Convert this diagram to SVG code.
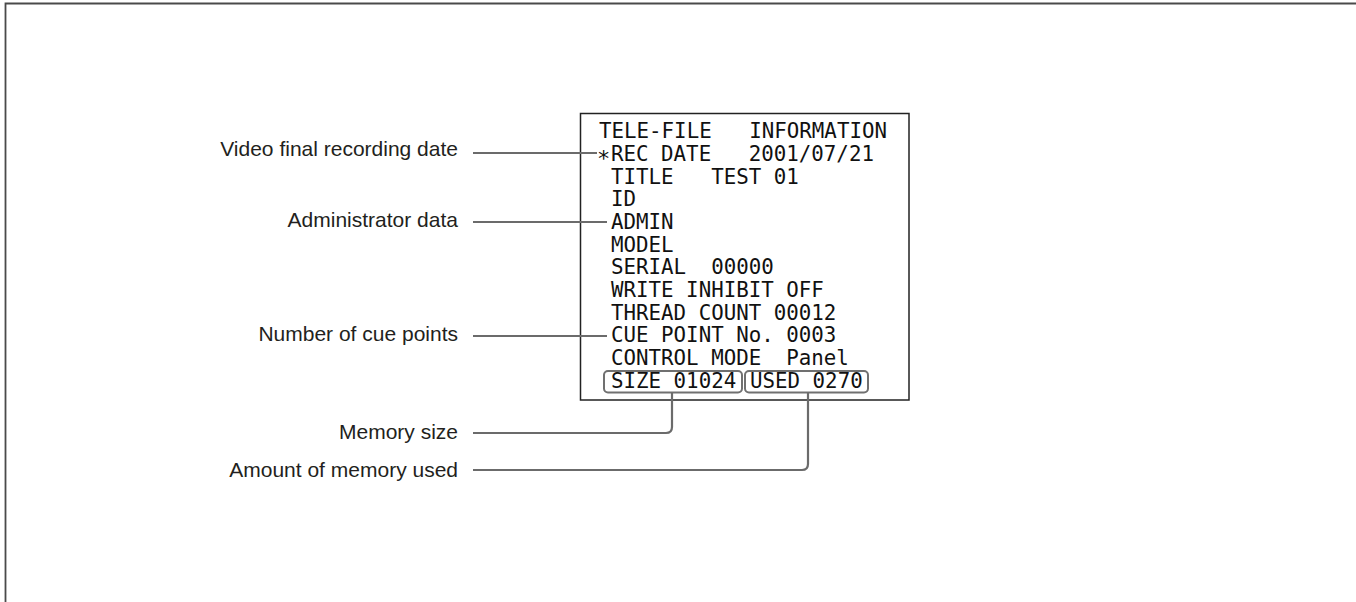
<svg xmlns="http://www.w3.org/2000/svg" width="1356" height="602" viewBox="0 0 1356 602">
<style>
.lbl{font-family:"Liberation Sans",Arial,sans-serif;font-size:21px;fill:#231f20;text-anchor:end}
.osd{font-family:"DejaVu Sans Mono","Liberation Mono",monospace;font-size:20.8px;fill:#111;white-space:pre}
.con{fill:none;stroke:#6b6b6b;stroke-width:2.2}
.cell{fill:none;stroke:#707070;stroke-width:2}
</style>
<rect width="1356" height="602" fill="#fff"/>
<g id="frame">
<path d="M5.5 602 V3.5 H1356" fill="none" stroke="#4a4a4a" stroke-width="1.8"/>
</g>
<g id="screen">
<rect x="580.5" y="113.5" width="328.5" height="286.5" fill="#fff" stroke="#222" stroke-width="1.5"/>
<text class="osd" xml:space="preserve" x="599" y="138">TELE-FILE   INFORMATION</text>
<text class="osd" xml:space="preserve" x="597" y="161"><tspan dy="5" font-size="22">*</tspan><tspan x="611" dy="-5">REC DATE   2001/07/21</tspan></text>
<text class="osd" xml:space="preserve" x="611" y="183.5">TITLE   TEST 01</text>
<text class="osd" x="611" y="206">ID</text>
<text class="osd" x="611" y="229">ADMIN</text>
<text class="osd" x="611" y="251.5">MODEL</text>
<text class="osd" xml:space="preserve" x="611" y="274">SERIAL  00000</text>
<text class="osd" x="611" y="297">WRITE INHIBIT OFF</text>
<text class="osd" x="611" y="319.5">THREAD COUNT 00012</text>
<text class="osd" x="611" y="342">CUE POINT No. 0003</text>
<text class="osd" xml:space="preserve" x="611" y="364.5">CONTROL MODE  Panel</text>
<rect class="cell" x="604" y="371" width="138" height="21.5" rx="4"/>
<rect class="cell" x="745" y="371" width="123" height="21.5" rx="4"/>
<text class="osd" x="611" y="388">SIZE 01024</text>
<text class="osd" x="750" y="388">USED 0270</text>
</g>
<g id="labels">
<text class="lbl" x="458" y="156">Video final recording date</text>
<text class="lbl" x="458" y="227">Administrator data</text>
<text class="lbl" x="458" y="341">Number of cue points</text>
<text class="lbl" x="458" y="439">Memory size</text>
<text class="lbl" x="458" y="477">Amount of memory used</text>
</g>
<g id="connectors">
<path class="con" d="M473 153 H597"/>
<path class="con" d="M473 222 H607"/>
<path class="con" d="M473 336 H607"/>
<path class="con" d="M672 392.5 V427 Q672 433 666 433 H473"/>
<path class="con" d="M808 392.5 V464 Q808 470 802 470 H473"/>
</g>
</svg>
